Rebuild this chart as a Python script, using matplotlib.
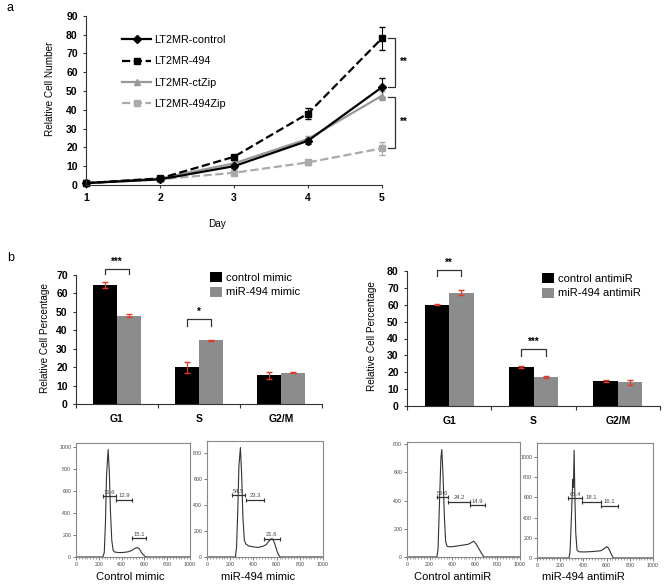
import numpy as np
import matplotlib
matplotlib.use('Agg')
import matplotlib.pyplot as plt
from matplotlib.lines import Line2D

plt.rcParams['font.family'] = ['Liberation Sans', 'DejaVu Sans']

# ---- panel a: growth curves ----
days = [1, 2, 3, 4, 5]
ctrl = [1, 3, 10, 23.5, 52]
ctrl_err = [0.3, 0.5, 1.0, 1.5, 5.0]
mir494 = [1, 3.5, 15, 38, 78]
mir494_err = [0.3, 0.5, 1.0, 3.0, 6.0]
ctzip = [1, 3.5, 11.5, 24.5, 47.5]
ctzip_err = [0.3, 0.5, 1.0, 1.5, 2.5]
zip494 = [1, 3, 6.5, 12, 19.5]
zip494_err = [0.3, 0.4, 0.8, 1.5, 3.5]

# ---- panel b: cell cycle bars ----
phases = ['G1', 'S', 'G2/M']
ctrl_mimic = [64.5, 20, 15.5]
ctrl_mimic_err = [1.5, 3.0, 2.0]
mir_mimic = [48, 34.5, 17]
mir_mimic_err = [0.8, 0.5, 0.3]
ctrl_anti = [60, 23, 15]
ctrl_anti_err = [0.4, 0.6, 0.5]
mir_anti = [67, 17, 14]
mir_anti_err = [1.5, 0.6, 1.5]

# ---- flow histograms ----
h1_x = [0, 235, 248, 258, 268, 282, 292, 302, 314, 326, 340, 380, 420, 460, 490, 515, 538, 555, 575, 600, 615, 1000]
h1_y = [0, 0, 40, 300, 750, 980, 780, 420, 150, 60, 45, 40, 42, 48, 60, 78, 86, 75, 40, 10, 0, 0]
h2_x = [0, 245, 255, 265, 275, 288, 298, 310, 322, 335, 360, 400, 440, 480, 510, 535, 555, 568, 585, 600, 615, 630, 1000]
h2_y = [0, 0, 80, 350, 700, 845, 650, 300, 130, 100, 85, 78, 74, 82, 95, 125, 140, 138, 100, 55, 20, 0, 0]
h3_x = [0, 265, 275, 288, 300, 308, 318, 330, 342, 355, 380, 420, 460, 500, 540, 565, 590, 610, 635, 660, 680, 1000]
h3_y = [0, 0, 60, 400, 700, 762, 600, 300, 110, 75, 72, 75, 80, 85, 90, 100, 112, 95, 60, 25, 0, 0]
h4_x = [0, 275, 285, 298, 308, 314, 320, 326, 334, 345, 360, 400, 450, 500, 550, 575, 600, 615, 632, 648, 660, 1000]
h4_y = [0, 0, 60, 450, 780, 700, 1067, 650, 250, 80, 62, 60, 62, 66, 72, 90, 112, 100, 60, 20, 0, 0]

h1_gates = [(237, 355, 554, '71.6'), (355, 494, 523, '12.9'), (494, 612, 169, '15.1')]
h2_gates = [(212, 329, 478, '54.5'), (338, 491, 443, '23.3'), (491, 629, 142, '21.6')]
h3_gates = [(262, 366, 424, '59.6'), (366, 554, 391, '24.2'), (554, 693, 369, '14.9')]
h4_gates = [(269, 392, 590, '65.4'), (392, 553, 560, '18.1'), (553, 699, 517, '16.1')]

W, H = 664, 586
fig = plt.figure(figsize=(W / 100, H / 100), dpi=100)


def px_axes(x0, y0, x1, y1):
    return fig.add_axes([x0 / W, 1 - y1 / H, (x1 - x0) / W, (y1 - y0) / H])


AX_COL = '#333333'
FS = 7.2
TICK_FS = 7.5

# ---------------- panel a ----------------
ax = px_axes(86, 15.7, 382, 185)
series = [
    ('LT2MR-control', ctrl, ctrl_err, 'black', '-', 'D', 4),
    ('LT2MR-494', mir494, mir494_err, 'black', '--', 's', 4.5),
    ('LT2MR-ctZip', ctzip, ctzip_err, '#999999', '-', '^', 4.5),
    ('LT2MR-494Zip', zip494, zip494_err, '#aaaaaa', '--', 's', 4.5),
]
for name, vals, err, col, ls, mk, ms in reversed(series):
    ax.errorbar(days, vals, yerr=err, color=col, ls=ls, marker=mk, ms=ms,
                lw=1.6, capsize=2, elinewidth=0.8, label=name, clip_on=False)
ax.set_xlim(1, 5)
ax.set_ylim(0, 90)
ax.set_yticks(range(0, 91, 10))
ax.set_xticks(days)
for s in ['top', 'right']:
    ax.spines[s].set_visible(False)
for s in ['left', 'bottom']:
    ax.spines[s].set_color(AX_COL)
ax.tick_params(labelsize=TICK_FS, length=2.5, width=0.8, colors=AX_COL)
for lbl in ax.get_xticklabels() + ax.get_yticklabels():
    lbl.set_fontweight('bold')
    lbl.set_color('black')
handles = [Line2D([], [], color=c, ls=l, marker=m, ms=ms, lw=1.6) for _, _, _, c, l, m, ms in series]
ax.legend(handles, [s[0] for s in series], loc='upper left', frameon=False,
          bbox_to_anchor=(122 / W, 1 - 35 / H), bbox_transform=fig.transFigure,
          borderpad=0, borderaxespad=0, handlelength=2.7, handletextpad=0.25,
          labelspacing=1.05, fontsize=7.8)
# significance brackets
ax.plot([5.08, 5.17, 5.17, 5.08], [78, 78, 52, 52], color=AX_COL, lw=0.9, clip_on=False)
ax.text(5.24, 65.5, '**', fontsize=7, fontweight='bold', va='center', ha='left')
ax.plot([5.08, 5.17, 5.17, 5.08], [47, 47, 19.7, 19.7], color=AX_COL, lw=0.9, clip_on=False)
ax.text(5.24, 33.5, '**', fontsize=7, fontweight='bold', va='center', ha='left')

fig.text(50 / W, 1 - 89 / H, 'Relative Cell Number', rotation=90, ha='center', va='center', fontsize=FS)
fig.text(217 / W, 1 - 224 / H, 'Day', ha='center', va='center', fontsize=FS)
fig.text(7 / W, 1 - 8 / H, 'a', ha='left', va='center', fontsize=9)
fig.text(7 / W, 1 - 258 / H, 'b', ha='left', va='center', fontsize=9)


# ---------------- panel b ----------------
def bar_panel(box, a_vals, a_err, b_vals, b_err, ymax, labels, leg_xy, sig):
    ax = px_axes(*box)
    x = np.arange(len(phases))
    w = 0.29
    ax.bar(x - w / 2, a_vals, w, color='black', label=labels[0])
    ax.bar(x + w / 2, b_vals, w, color='#8c8c8c', label=labels[1])
    ax.errorbar(x - w / 2, a_vals, yerr=a_err, fmt='none', ecolor='#e03a2a', elinewidth=0.9, capsize=2)
    ax.errorbar(x + w / 2, b_vals, yerr=b_err, fmt='none', ecolor='#e03a2a', elinewidth=0.9, capsize=2)
    ax.set_xlim(-0.5, 2.5)
    ax.set_ylim(0, ymax)
    ax.set_yticks(range(0, ymax + 1, 10))
    ax.set_xticks(x)
    ax.set_xticklabels(phases)
    ax.set_xticks([-0.5, 0.5, 1.5, 2.5], minor=True)
    ax.tick_params(axis='x', which='major', length=0, pad=7)
    ax.tick_params(axis='x', which='minor', length=3, width=0.8, colors=AX_COL)
    ax.tick_params(axis='y', length=2.5, width=0.8, colors=AX_COL)
    ax.tick_params(labelsize=TICK_FS)
    for lbl in ax.get_xticklabels() + ax.get_yticklabels():
        lbl.set_fontweight('bold')
        lbl.set_color('black')
    for s in ['top', 'right']:
        ax.spines[s].set_visible(False)
    for s in ['left', 'bottom']:
        ax.spines[s].set_color(AX_COL)
    for i, top, leg, star in sig:
        ax.plot([i - w / 2, i - w / 2, i + w / 2, i + w / 2], [leg, top, top, leg],
                color=AX_COL, lw=0.9, clip_on=False)
        ax.text(i, top + (top - leg) * 0.35, star, ha='center', va='bottom', fontsize=7, fontweight='bold')
    ax.legend(loc='upper left', frameon=False, bbox_to_anchor=(leg_xy[0] / W, 1 - leg_xy[1] / H),
              bbox_transform=fig.transFigure, borderpad=0, borderaxespad=0,
              handlelength=1.05, handleheight=1.0, handletextpad=0.35, labelspacing=0.35,
              fontsize=8)
    return ax


bar_panel((76, 275, 322, 404), ctrl_mimic, ctrl_mimic_err, mir_mimic, mir_mimic_err, 70,
          ['control mimic', 'miR-494 mimic'], (210, 272),
          [(0, 73.4, 70.6, '***'), (1, 46.2, 42.4, '*')])
bar_panel((407, 271, 660, 406), ctrl_anti, ctrl_anti_err, mir_anti, mir_anti_err, 80,
          ['control antimiR', 'miR-494 antimiR'], (542, 273),
          [(0, 80.5, 77.3, '**'), (1, 33.7, 29.6, '***')])

fig.text(45 / W, 1 - 338 / H, 'Relative Cell Percentage', rotation=90, ha='center', va='center', fontsize=FS)
fig.text(372 / W, 1 - 336 / H, 'Relative Cell Percentage', rotation=90, ha='center', va='center', fontsize=FS)


# ---------------- flow histograms ----------------
def hist_panel(box, hx, hy, ymax, ystep_max, gates, title, title_x):
    ax = px_axes(*box)
    ax.plot(hx, hy, color='#333333', lw=0.8)
    ax.set_xlim(0, 1000)
    ax.set_ylim(0, ymax)
    ax.set_xticks(range(0, 1001, 200))
    ax.set_xticks(range(0, 1001, 25), minor=True)
    ax.set_yticks(range(0, ystep_max + 1, 200))
    ax.tick_params(labelsize=3.8, length=2, width=0.5, colors='#444444', pad=1.5)
    ax.tick_params(which='minor', length=1.2, width=0.4, colors='#555555')
    for s in ax.spines.values():
        s.set_color('#888888')
        s.set_linewidth(0.8)
    for x0, x1, y, txt in gates:
        ax.plot([x0, x1], [y, y], color='#333333', lw=0.9, marker='|', ms=3.5, mew=0.8)
        ax.text((x0 + x1) / 2, y + ymax * 0.012, txt, ha='center', va='bottom', fontsize=4.2, color='#444444')
    fig.text(title_x / W, 1 - 577 / H, title, ha='center', va='center', fontsize=8)


hist_panel((76, 443, 190, 557), h1_x, h1_y, 1040, 1000, h1_gates, 'Control mimic', 130)
hist_panel((207, 441, 323, 557), h2_x, h2_y, 895, 800, h2_gates, 'miR-494 mimic', 258)
hist_panel((407, 442, 520, 557), h3_x, h3_y, 815, 800, h3_gates, 'Control antimiR', 453)
hist_panel((537, 443, 653, 558), h4_x, h4_y, 1140, 1000, h4_gates, 'miR-494 antimiR', 583)

fig.savefig('out.png', dpi=100)
